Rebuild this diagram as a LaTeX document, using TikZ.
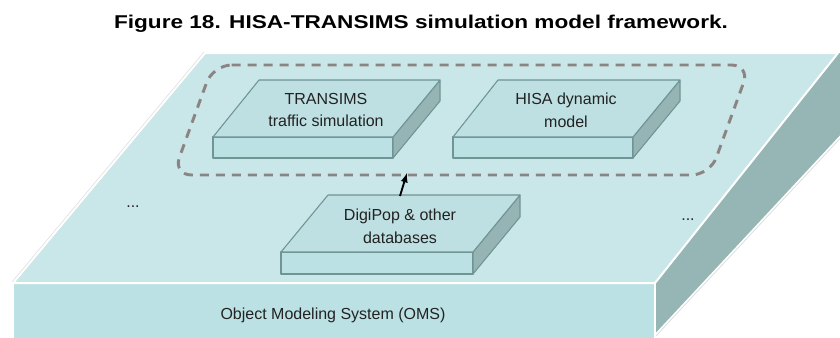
\documentclass[tikz,border=0pt]{standalone}
\usepackage{fontspec}
\setmainfont{Liberation Sans}
\newfontfamily\titlefont[FakeStretch=1.22]{Liberation Sans}

\definecolor{topface}{HTML}{C9E6E9}
\definecolor{frontface}{HTML}{BCE1E4}
\definecolor{sideface}{HTML}{96B5B5}
\definecolor{boxtop}{HTML}{BEE0E3}
\definecolor{boxfront}{HTML}{BCE1E4}
\definecolor{boxside}{HTML}{96B4B4}
\definecolor{boxline}{HTML}{6F9494}
\definecolor{dashgray}{HTML}{8C8383}
\definecolor{shade}{HTML}{DADADA}
\definecolor{textgray}{HTML}{222222}

\tikzset{
  boxface/.style={draw=boxline,line width=0.8pt,line join=round},
  boxtext/.style={font=\fontsize{12}{17}\selectfont,text=textgray,align=center,inner sep=0pt}
}

\begin{document}
\begin{tikzpicture}[x=0.75pt,y=-0.75pt]

\useasboundingbox (0,0) rectangle (840,337);
\clip (0,0) rectangle (840,337);

\node[font=\titlefont\bfseries\fontsize{13.9}{16}\selectfont,anchor=base] (title) at (421,28) {Figure 18. HISA-TRANSIMS simulation model framework.};

%oms platform
\path[draw=shade,line width=2.5pt] (13,283) -- (205,53);
\path[draw=shade,line width=2.5pt] (918,53) -- (655,335);
\path[fill=sideface] (655,283) -- (838,53) -- (918,53) -- (655,335) -- cycle;
\path[fill=frontface,draw=white,line width=1.2pt] (13,283) rectangle (655,345);
\path[fill=topface,draw=white,line width=1.5pt,line join=round] (13,283) -- (655,283) -- (838,53) -- (205,53) -- cycle;
\path[draw=white,line width=1.2pt] (918,53) -- (655,335);
\node[boxtext,anchor=base] (oms) at (333,319) {Object Modeling System (OMS)};

\node[boxtext,anchor=base] (dotsl) at (133,207) {...};
\node[boxtext,anchor=base] (dotsr) at (688,220) {...};

%model group
\path[draw=dashgray,line width=2.2pt,dash pattern=on 6.75pt off 5.25pt,rounded corners=14pt] (213,65) -- (750,65) -- (710,175) -- (173,175) -- cycle;
\coordinate (grp) at (407,173);

%transims
\path[fill=boxfront,boxface] (213,137) rectangle (393,158);
\path[fill=boxside,boxface] (393,137) -- (440,80) -- (440,101) -- (393,158) -- cycle;
\path[fill=boxtop,boxface] (213,137) -- (393,137) -- (440,80) -- (259,80) -- cycle;
\node[boxtext] (transims) at (326,110) {TRANSIMS\\traffic simulation};

%hisa
\path[fill=boxfront,boxface] (453,137) rectangle (633,158);
\path[fill=boxside,boxface] (633,137) -- (680,80) -- (680,101) -- (633,158) -- cycle;
\path[fill=boxtop,boxface] (453,137) -- (633,137) -- (680,80) -- (498,80) -- cycle;
\node[boxtext] (hisa) at (566,110) {HISA dynamic\\model};

%digipop
\path[fill=boxfront,boxface] (281,252) rectangle (473,274);
\path[fill=boxside,boxface] (473,252) -- (520,195) -- (520,217) -- (473,274) -- cycle;
\path[fill=boxtop,boxface] (281,252) -- (473,252) -- (520,195) -- (328,195) -- cycle;
\node[boxtext] (digipop) at (400,226) {DigiPop \& other\\databases};
\coordinate (dtop) at (400,196);

\path[draw=black,-latex,line width=1.4pt] (dtop) -- (grp);

\end{tikzpicture}
\end{document}
